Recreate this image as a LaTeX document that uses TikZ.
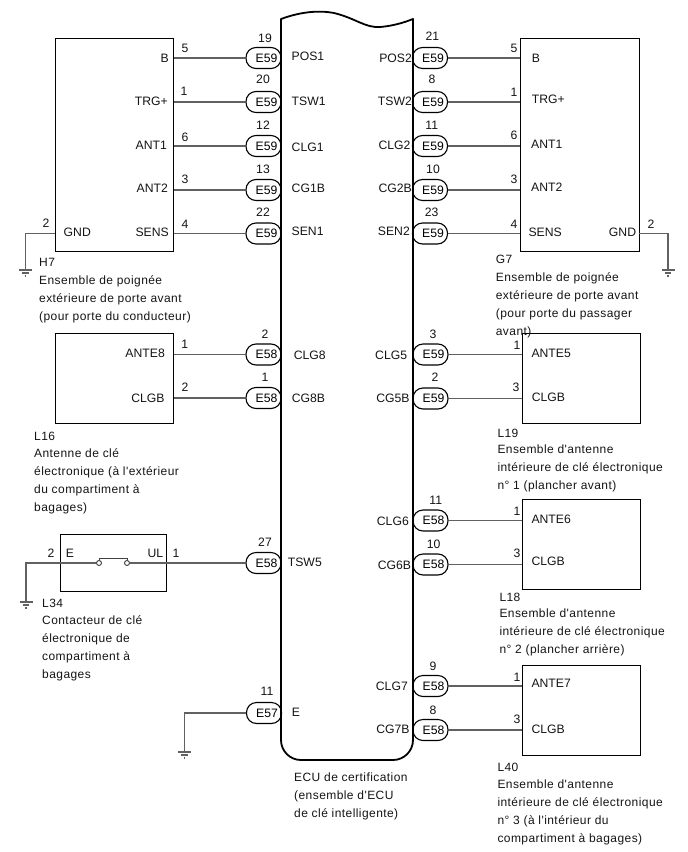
\documentclass[tikz,border=0pt]{standalone}
\usepackage{fontspec}
\setmainfont{Liberation Sans}
\newfontfamily\capfont[LetterSpace=3.6]{Liberation Sans}
\tikzset{
  x=1pt,y=-1pt,
  lbl/.style={inner sep=0pt,font=\fontsize{12.2}{14}\selectfont,text=black!92},
  capt/.style={inner sep=0pt,anchor=north west,align=left,text=black!92,font=\capfont\fontsize{12}{18}\selectfont},
  wire/.style={draw=black!62,line width=1.1pt},
  boxn/.style={draw=black,line width=1.2pt,inner sep=0pt,anchor=north west},
  pill/.style={draw=black,line width=1.1pt,rounded corners=10pt,minimum width=35pt,minimum height=21pt,inner sep=0pt,
     font=\fontsize{12.2}{14}\selectfont,text height=8.6pt,text depth=0pt,execute at begin node=\hspace{6pt}},
  contact/.style={circle,draw=black!75,line width=0.9pt,fill=white,minimum size=5pt,inner sep=0pt},
  gnd/.pic={
    \draw[wire] (-6.5,0) -- (6.5,0);
    \draw[wire] (-3.2,3) -- (3.2,3);
    \draw[wire] (-0.8,6) -- (0.8,6);
  }
}
\newcommand{\tw}[4]{\node[lbl,anchor=base west] (#1) at (#2,#3) {#4};}
\newcommand{\te}[4]{\node[lbl,anchor=base east] (#1) at (#2,#3) {#4};}
\newcommand{\tc}[4]{\node[lbl,anchor=base] (#1) at (#2,#3) {#4};}
\begin{document}
\begin{tikzpicture}
\useasboundingbox (0,0) rectangle (688,852);

% boxes
\node[boxn,minimum width=118.5pt,minimum height=213pt] (H7) at (54.5,38) {};
\node[boxn,minimum width=118.5pt,minimum height=213pt] (G7) at (520,38) {};
\node[boxn,minimum width=118.5pt,minimum height=90pt] (L16) at (54.5,333) {};
\node[boxn,minimum width=118pt,minimum height=90pt] (L19) at (522,333) {};
\node[boxn,minimum width=118pt,minimum height=90pt] (L18) at (522,499) {};
\node[boxn,minimum width=118pt,minimum height=90pt] (L40) at (522,665) {};
\node[boxn,minimum width=106pt,minimum height=57pt] (L34) at (60,534) {};

% pills, left column
\node[pill] (pa1) at (263.5,58) {E59};
\node[pill] (pa2) at (263.5,102) {E59};
\node[pill] (pa3) at (263.5,146) {E59};
\node[pill] (pa4) at (263.5,190) {E59};
\node[pill] (pa5) at (263.5,233.5) {E59};
\node[pill] (pa6) at (263.5,354.5) {E58};
\node[pill] (pa7) at (263.5,398) {E58};
\node[pill] (pa8) at (263.5,563) {E58};
\node[pill] (pa9) at (264,713) {E57};
% pills, right column
\node[pill] (pb1) at (430,58) {E59};
\node[pill] (pb2) at (430,102) {E59};
\node[pill] (pb3) at (430,146) {E59};
\node[pill] (pb4) at (430,190) {E59};
\node[pill] (pb5) at (430,233.5) {E59};
\node[pill] (pb6) at (430.5,354.5) {E59};
\node[pill] (pb7) at (430.5,398.5) {E59};
\node[pill] (pb8) at (430.5,520.5) {E58};
\node[pill] (pb9) at (430.5,564.5) {E58};
\node[pill] (pb10) at (430.5,686) {E58};
\node[pill] (pb11) at (430.5,730) {E58};

% ECU body
\draw[black,line width=1.8pt,line join=round]
  (281,19) .. controls (300,12) and (318,10) .. (334,13)
  .. controls (355,18) and (365,28) .. (380,27)
  .. controls (392,26) and (403,23) .. (413,19)
  -- (413,740) arc[start angle=0,end angle=90,x radius=20pt,y radius=-20pt]
  -- (301,760) arc[start angle=90,end angle=180,x radius=20pt,y radius=-20pt]
  -- cycle;

% wires
\foreach \p in {pa1,pa2,pa3,pa4,pa5} \draw[wire] (\p.west) -- (\p.west -| H7.east);
\foreach \p in {pa6,pa7} \draw[wire] (\p.west) -- (\p.west -| L16.east);
\foreach \p in {pb1,pb2,pb3,pb4,pb5} \draw[wire] (\p.east) -- (\p.east -| G7.west);
\foreach \p in {pb6,pb7} \draw[wire] (\p.east) -- (\p.east -| L19.west);
\foreach \p in {pb8,pb9} \draw[wire] (\p.east) -- (\p.east -| L18.west);
\foreach \p in {pb10,pb11} \draw[wire] (\p.east) -- (\p.east -| L40.west);

% grounds
\coordinate (g1) at (25.5,270);
\coordinate (g2) at (668,270);
\coordinate (g3) at (26,602);
\coordinate (g4) at (184.5,752);
\coordinate (h7g) at (54.5,233.5);
\coordinate (g7g) at (638.5,233.5);
\draw[wire] (h7g) -| (g1);
\draw[wire] (g7g) -| (g2);
\pic at (g1) {gnd};
\pic at (g2) {gnd};
\pic at (g3) {gnd};
\pic at (g4) {gnd};

% switch
\node[contact] (c1) at (99,563) {};
\node[contact] (c2) at (127,563) {};
\draw[wire] (c1.west) -| (g3);
\draw[wire] (pa8.west) -- (c2.east);
\draw[draw=black!75,line width=0.9pt] (c1.north) -- ++(0,-2) -| (c2.north);
\draw[wire] (pa9.west) -| (g4);

% H7 labels
\te{tb}{169}{62}{B}
\te{ttrg}{168}{105}{TRG+}
\te{tan1}{167}{149}{ANT1}
\te{tan2}{168}{192}{ANT2}
\te{tsen}{169}{236}{SENS}
\tw{tgnd}{63.5}{236}{GND}
\tc{n5}{185}{52}{5}
\tc{n1}{184}{95}{1}
\tc{n6}{185}{141}{6}
\tc{n3}{185}{183}{3}
\tc{n4}{185}{228}{4}
\tc{n2}{46}{227}{2}
% ECU left pins
\tc{m19}{265}{42}{19}
\tc{m20}{263}{83.5}{20}
\tc{m12}{263}{129}{12}
\tc{m13}{263}{173}{13}
\tc{m22}{263}{216}{22}
\tw{pos1}{291.5}{60}{POS1}
\tw{tsw1}{291.5}{105}{TSW1}
\tw{clg1}{291.5}{151}{CLG1}
\tw{cg1b}{291.5}{192.5}{CG1B}
\tw{sen1}{291.5}{235.5}{SEN1}
% ECU right pins
\te{pos2}{412}{62}{POS2}
\te{tsw2}{412}{105}{TSW2}
\te{clg2}{410.7}{149}{CLG2}
\te{cg2b}{412}{192}{CG2B}
\te{sen2}{410}{235}{SEN2}
\tc{m21}{432.3}{40}{21}
\tc{m8}{432}{83.5}{8}
\tc{m11}{431.7}{129.5}{11}
\tc{m10}{433}{173}{10}
\tc{m23}{431.7}{216}{23}
% G7 labels
\tw{gb}{531.7}{62}{B}
\tw{gtrg}{531.7}{103.5}{TRG+}
\tw{gan1}{531}{148}{ANT1}
\tw{gan2}{531}{191}{ANT2}
\tw{gsen}{528.3}{236}{SENS}
\te{ggnd}{636.3}{236}{GND}
\tc{k5}{514}{52}{5}
\tc{k1}{514}{96}{1}
\tc{k6}{514}{139}{6}
\tc{k3}{514}{183}{3}
\tc{k4}{514}{228}{4}
\tc{k2}{651}{228}{2}
% L16
\te{l16a}{165}{357.5}{ANTE8}
\te{l16b}{164.7}{402.7}{CLGB}
\tc{q1}{184.7}{348}{1}
\tc{q2}{185}{391}{2}
\tc{r2}{265}{338}{2}
\tc{r1}{265}{381}{1}
\tw{clg8}{293.7}{359}{CLG8}
\tw{cg8b}{291.7}{402.5}{CG8B}
% L19
\tw{l19a}{531.3}{357.5}{ANTE5}
\tw{l19b}{531.7}{401.7}{CLGB}
\tc{s1}{517}{349}{1}
\tc{s3}{516}{391}{3}
\tc{u3}{433}{338}{3}
\tc{u2}{435}{381}{2}
\te{clg5}{407.3}{359}{CLG5}
\te{cg5b}{409.7}{402.5}{CG5B}
% L18
\tw{l18a}{531.3}{523.5}{ANTE6}
\tw{l18b}{531.3}{565.7}{CLGB}
\tc{v1}{517}{515}{1}
\tc{v3}{517}{557.7}{3}
\tc{w11}{435.7}{504}{11}
\tc{w10}{433.7}{548.3}{10}
\te{clg6}{409}{525}{CLG6}
\te{cg6b}{411.3}{569}{CG6B}
% L40
\tw{l40a}{531.3}{687.7}{ANTE7}
\tw{l40b}{531.3}{733.7}{CLGB}
\tc{y1}{517}{681}{1}
\tc{y3}{517}{723.3}{3}
\tc{z9}{433}{670}{9}
\tc{z8}{433}{714.3}{8}
\te{clg7}{408}{690.3}{CLG7}
\te{cg7b}{409.7}{733.7}{CG7B}
% L34
\tw{l34e}{65.7}{557.7}{E}
\te{l34u}{163.3}{557.7}{UL}
\tc{a2}{51}{557.7}{2}
\tc{a1}{176}{557.7}{1}
\tc{a27}{265}{546.7}{27}
\tw{tsw5}{287.7}{566}{TSW5}
\tc{e11}{267}{695.7}{11}
\tw{ee}{291.7}{716.7}{E}

% captions
\node[capt] (cH7) at (39,258) {H7\\Ensemble de poignée\\extérieure de porte avant\\(pour porte du conducteur)};
\node[capt] (cG7) at (495.7,254.5) {G7\\Ensemble de poignée\\extérieure de porte avant\\(pour porte du passager\\avant)};
\node[capt] (cL16) at (34,432) {L16\\[-1pt]Antenne de clé\\électronique (à l'extérieur\\du compartiment à\\bagages)};
\node[capt] (cL19) at (497.3,429) {L19\\[-2.5pt]Ensemble d'antenne\\intérieure de clé électronique\\n° 1 (plancher avant)};
\node[capt] (cL18) at (499.3,593) {L18\\[-2pt]Ensemble d'antenne\\intérieure de clé électronique\\n° 2 (plancher arrière)};
\node[capt] (cL40) at (497.3,763) {L40\\[-1pt]Ensemble d'antenne\\intérieure de clé électronique\\n° 3 (à l'intérieur du\\compartiment à bagages)};
\node[capt] (cL34) at (42,598.5) {L34\\[-1pt]Contacteur de clé\\électronique de\\compartiment à\\bagages};
\node[capt] (cECU) at (294,773) {ECU de certification\\(ensemble d'ECU\\de clé intelligente)};
\end{tikzpicture}
\end{document}
